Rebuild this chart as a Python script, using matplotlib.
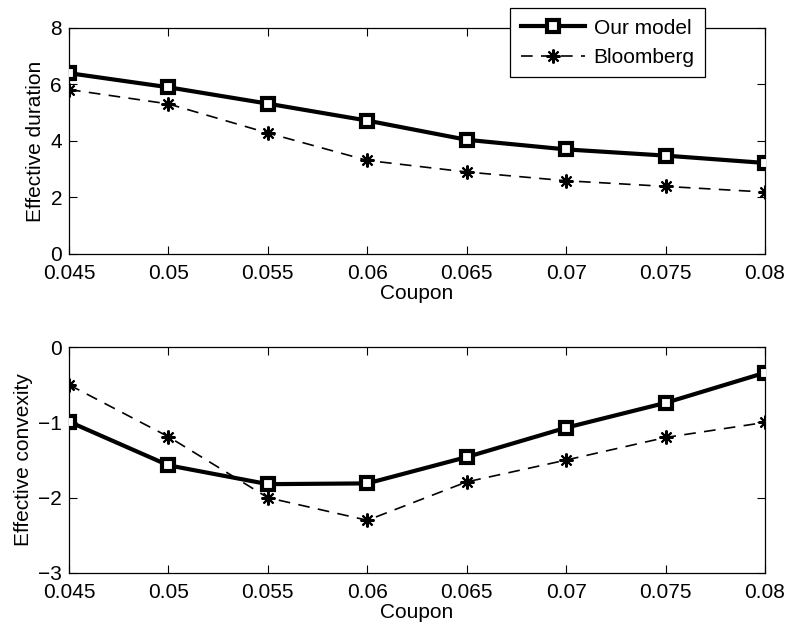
import matplotlib
matplotlib.use("Agg")
import matplotlib.pyplot as plt

plt.rcParams["font.family"] = ["Liberation Sans", "DejaVu Sans"]
plt.rcParams["font.size"] = 15

# data
coupon = [0.045, 0.05, 0.055, 0.06, 0.065, 0.07, 0.075, 0.08]
dur_model = [6.4, 5.9, 5.32, 4.72, 4.04, 3.70, 3.48, 3.22]
dur_bloomberg = [5.82, 5.31, 4.28, 3.31, 2.90, 2.59, 2.39, 2.19]
conv_model = [-0.99, -1.57, -1.82, -1.81, -1.46, -1.07, -0.74, -0.34]
conv_bloomberg = [-0.50, -1.19, -2.0, -2.30, -1.79, -1.50, -1.20, -1.00]

xticks = [0.045, 0.05, 0.055, 0.06, 0.065, 0.07, 0.075, 0.08]
xticklabels = ["0.045", "0.05", "0.055", "0.06", "0.065", "0.07", "0.075", "0.08"]

fig = plt.figure(figsize=(7.86, 6.30), dpi=100)
ax1 = fig.add_axes([0.0878, 0.597, 0.8855, 0.3586])
ax2 = fig.add_axes([0.0878, 0.0905, 0.8855, 0.3585])

star = (8, 2, 0)


def draw(ax, model, bloom):
    ax.plot(coupon, model, color="black", linewidth=3.0, marker="s",
            markersize=8, markerfacecolor="white", markeredgewidth=3.0,
            label="Our model", zorder=3)
    ax.plot(coupon, bloom, color="black", linewidth=1.2, dashes=(7, 5),
            marker=star, markersize=10, markeredgewidth=1.5,
            label="Bloomberg", zorder=2)
    ax.set_xlim(0.045, 0.08)
    ax.set_xticks(xticks)
    ax.set_xticklabels(xticklabels)
    ax.set_xlabel("Coupon", labelpad=1)
    ax.tick_params(direction="in", top=True, right=True, length=6, width=0.8,
                   pad=5)
    ax.tick_params(axis="x", pad=7)
    for s in ax.spines.values():
        s.set_linewidth(0.9)


draw(ax1, dur_model, dur_bloomberg)
ax1.set_ylim(0, 8)
ax1.set_yticks([0, 2, 4, 6, 8])
ax1.set_ylabel("Effective duration", labelpad=4)
leg = ax1.legend(loc="upper right", bbox_to_anchor=(0.914, 1.088),
                 fancybox=False, framealpha=1, edgecolor="black",
                 handlelength=3.1, borderpad=0.5, labelspacing=0.5,
                 handletextpad=0.4, borderaxespad=0)
leg.get_frame().set_linewidth(0.9)
leg.set_zorder(5)

draw(ax2, conv_model, conv_bloomberg)
ax2.set_ylim(-3, 0)
ax2.set_yticks([-3, -2, -1, 0])
ax2.set_yticklabels(["\u22123", "\u22122", "\u22121", "0"])
ax2.set_ylabel("Effective convexity", labelpad=4)

fig.savefig("out.png", dpi=100)
plt.close(fig)
